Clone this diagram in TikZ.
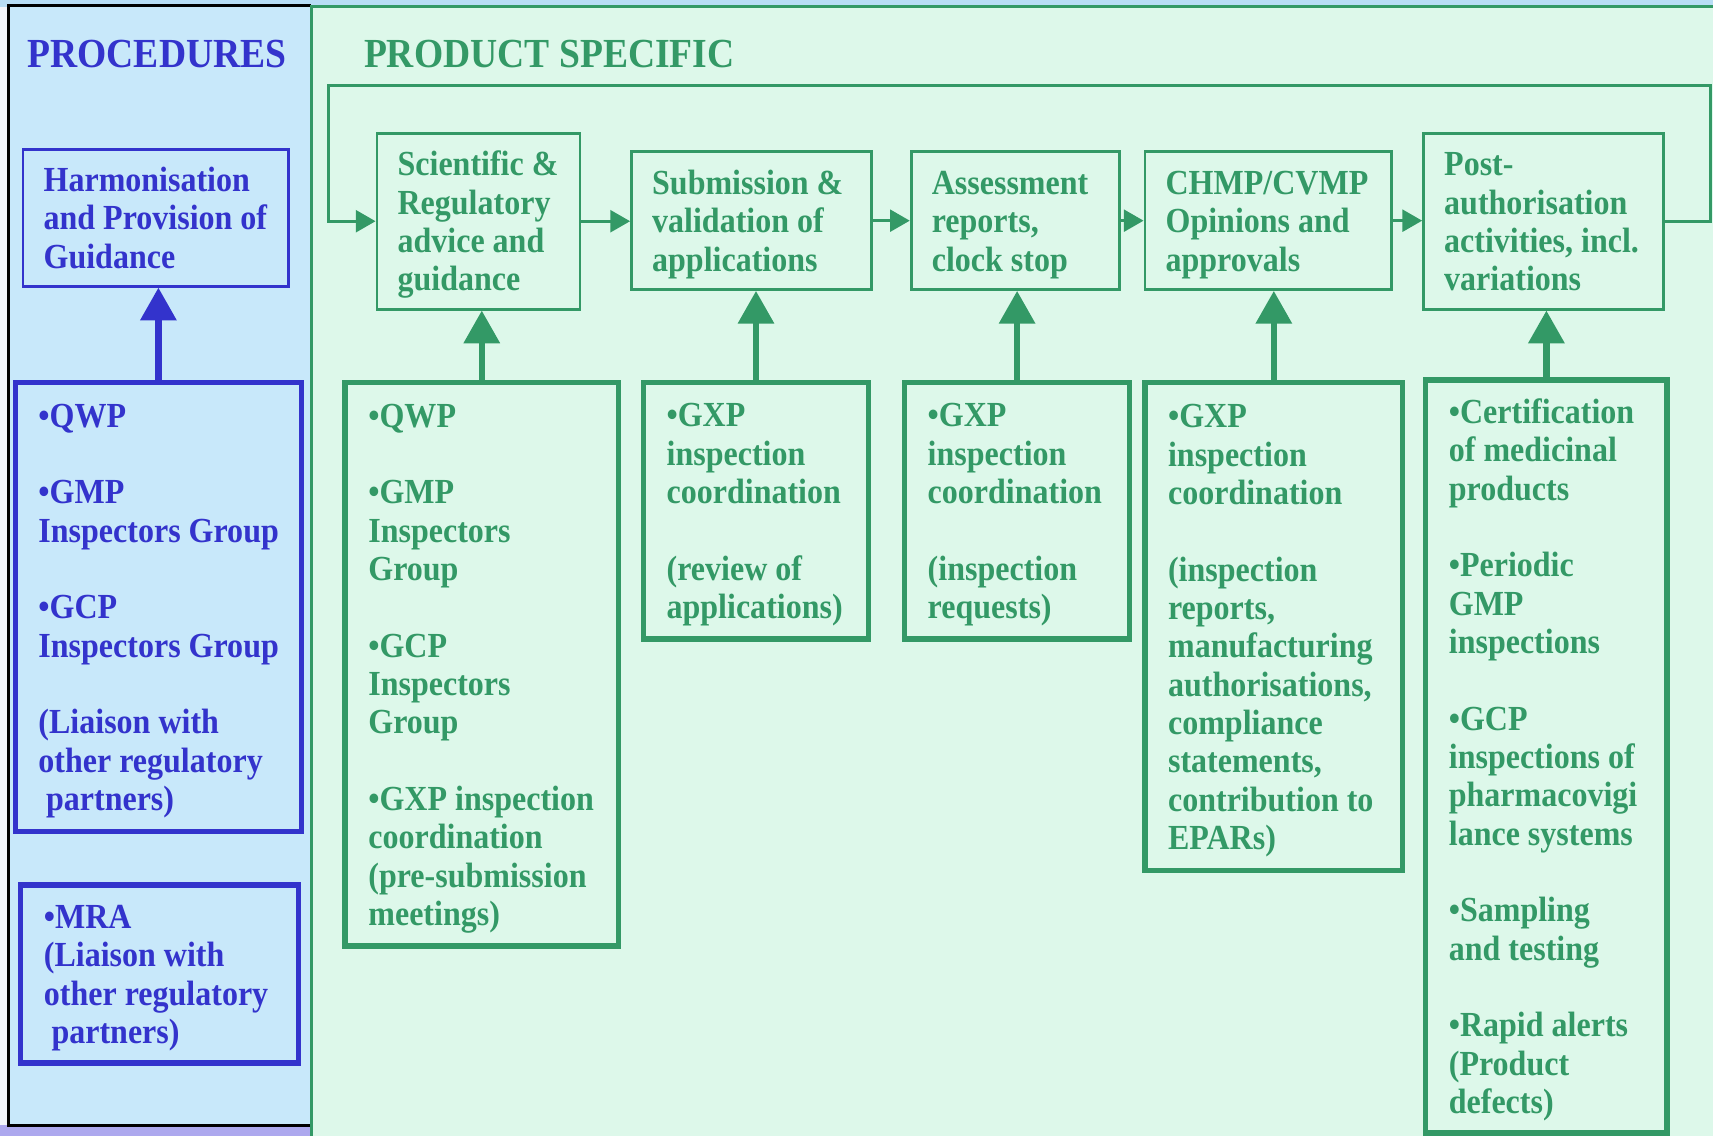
\documentclass[tikz,border=0pt]{standalone}
\usepackage{fontspec}
\usepackage{graphicx}
\setmainfont{Liberation Serif}
\usetikzlibrary{arrows.meta}
\definecolor{pblue}{HTML}{3333CC}
\definecolor{pgreen}{HTML}{339966}
\definecolor{lbluefill}{HTML}{C8E8FA}
\definecolor{lgreenfill}{HTML}{DDF8EA}
\definecolor{topstrip}{HTML}{B8DDF5}
\definecolor{lavender}{HTML}{ADA8EE}
\definecolor{pagebg}{HTML}{F2F5FB}
\newcommand\tlines[1]{\scalebox{1}[1.1]{\fontsize{29.3}{31.9}\selectfont\bfseries\begin{tabular}{@{}l@{}}#1\end{tabular}}}
\newcommand\ttitle[1]{\scalebox{1}[1.1]{\fontsize{34.4}{40}\selectfont\bfseries #1}}
\begin{document}
\begin{tikzpicture}[x=1pt,y=-1pt,
  txt/.style={inner sep=0pt, anchor=west},
  gtxt/.style={txt, text=pgreen},
  btxt/.style={txt, text=pblue},
  gthin/.style={draw=pgreen, line width=2.5pt, inner sep=0pt},
  gthick/.style={draw=pgreen, line width=5pt, inner sep=0pt},
  bthin/.style={draw=pblue, line width=2.5pt, inner sep=0pt},
  bthick/.style={draw=pblue, line width=5pt, inner sep=0pt},
  flow/.style={draw=pgreen, line width=2.5pt, -{Triangle[length=18pt,width=20pt]}},
  uparrow/.style={line width=6pt, -{Triangle[length=30pt,width=32pt]}}
]
\useasboundingbox (0,0) rectangle (1568,1040);
% backgrounds
\fill[pagebg] (0,0) rectangle (1568,1040);
\fill[topstrip] (0,0) rectangle (1568,6);
\fill[lavender] (0,1030) rectangle (285,1040);
\fill[lbluefill] (8,5) rectangle (285,1030);
\draw[black, line width=3pt] (285,5) -- (8,5) -- (8,1030) -- (285,1030);
\fill[lgreenfill] (285,6) rectangle (1568,1040);
\draw[pgreen, line width=2.5pt] (285,1040) -- (285,6) -- (1568,6);

% titles
\node[anchor=base west, inner sep=0pt, text=pblue] (proc) at (25,62) {\ttitle{PROCEDURES}};
\node[anchor=base west, inner sep=0pt, text=pgreen] (prod) at (333,62) {\ttitle{PRODUCT SPECIFIC}};

% top row boxes
\node[gthin, minimum width=186pt, minimum height=161pt] (sci) at (438,202.5) {};
\node[gthin, minimum width=220pt, minimum height=126pt] (sub) at (688,202) {};
\node[gthin, minimum width=191pt, minimum height=126pt] (ass) at (929.5,202) {};
\node[gthin, minimum width=226pt, minimum height=126pt] (chmp) at (1161,202) {};
\node[gthin, minimum width=220pt, minimum height=161pt] (post) at (1413,202.5) {};

\node[gtxt] (sci-t) at ([xshift=20pt,yshift=-4pt]sci.west) {\tlines{Scientific \&\\Regulatory\\advice and\\guidance}};
\node[gtxt] (sub-t) at ([xshift=20pt,yshift=-4pt]sub.west) {\tlines{Submission \&\\validation of\\applications}};
\node[gtxt] (ass-t) at ([xshift=20pt,yshift=-4pt]ass.west) {\tlines{Assessment\\reports,\\clock stop}};
\node[gtxt] (chmp-t) at ([xshift=20pt,yshift=-4pt]chmp.west) {\tlines{CHMP/CVMP\\Opinions and\\approvals}};
\node[gtxt] (post-t) at ([xshift=20pt,yshift=-4pt]post.west) {\tlines{Post-\\authorisation\\activities, incl.\\variations}};

% bottom row boxes
\node[gthick, minimum width=250pt, minimum height=516pt] (ga) at (441,608) {};
\node[gthick, minimum width=206pt, minimum height=235pt] (gb) at (692,467.5) {};
\node[gthick, minimum width=206pt, minimum height=235pt] (gc) at (931,467.5) {};
\node[gthick, minimum width=236pt, minimum height=447pt] (gd) at (1166,573.5) {};
\node[gthick, minimum width=221pt, minimum height=689pt] (ge) at (1415.5,692.5) {};

\node[gtxt] (ga-t) at ([xshift=23.5pt,yshift=-4pt]ga.west) {\tlines{•QWP\\[31.9pt]•GMP\\Inspectors\\Group\\[31.9pt]•GCP\\Inspectors\\Group\\[31.9pt]•GXP inspection\\coordination\\(pre-submission\\meetings)}};
\node[gtxt] (gb-t) at ([xshift=23.5pt,yshift=-4pt]gb.west) {\tlines{•GXP\\inspection\\coordination\\[31.9pt](review of\\applications)}};
\node[gtxt] (gc-t) at ([xshift=23.5pt,yshift=-4pt]gc.west) {\tlines{•GXP\\inspection\\coordination\\[31.9pt](inspection\\requests)}};
\node[gtxt] (gd-t) at ([xshift=23.5pt,yshift=-4pt]gd.west) {\tlines{•GXP\\inspection\\coordination\\[31.9pt](inspection\\reports,\\manufacturing\\authorisations,\\compliance\\statements,\\contribution to\\EPARs)}};
\node[gtxt] (ge-t) at ([xshift=23.5pt,yshift=-4pt]ge.west) {\tlines{•Certification\\of medicinal\\products\\[31.9pt]•Periodic\\GMP\\inspections\\[31.9pt]•GCP\\inspections of\\pharmacovigi\\lance systems\\[31.9pt]•Sampling\\and testing\\[31.9pt]•Rapid alerts\\(Product\\defects)}};

% left panel boxes
\node[bthin, minimum width=243pt, minimum height=125pt] (harm) at (142.5,199.5) {};
\node[bthick, minimum width=262pt, minimum height=411pt] (qwp) at (145,555.5) {};
\node[bthick, minimum width=254pt, minimum height=163pt] (mra) at (146,891.5) {};

\node[btxt] (harm-t) at ([xshift=20pt,yshift=-4pt]harm.west) {\tlines{Harmonisation\\and Provision of\\Guidance}};
\node[btxt] (qwp-t) at ([xshift=23.5pt,yshift=-4pt]qwp.west) {\tlines{•QWP\\[31.9pt]•GMP\\Inspectors Group\\[31.9pt]•GCP\\Inspectors Group\\[31.9pt](Liaison with\\other regulatory\\\hspace*{7pt}partners)}};
\node[btxt] (mra-t) at ([xshift=23.5pt,yshift=-4pt]mra.west) {\tlines{•MRA\\(Liaison with\\other regulatory\\\hspace*{7pt}partners)}};

% flow arrows
\draw[flow] (sci.east) -- (sci.east -| sub.west);
\draw[flow] (sub.east) -- (ass.west);
\draw[flow] (ass.east) -- (chmp.west);
\draw[flow] (chmp.east) -- (chmp.east -| post.west);
\coordinate (loopR) at (1566,78);
\coordinate (loopL) at (301,78);
\draw[flow] (post.east) -| (loopR) -- (loopL) |- (sci.west);

% up arrows
\draw[uparrow, pgreen] (ga.north) -- (ga.north |- sci.south);
\draw[uparrow, pgreen] (gb.north) -- (gb.north |- sub.south);
\draw[uparrow, pgreen] (gc.north) -- (gc.north |- ass.south);
\draw[uparrow, pgreen] (gd.north) -- (gd.north |- chmp.south);
\draw[uparrow, pgreen] (ge.north) -- (ge.north |- post.south);
\draw[uparrow, pblue] (qwp.north) -- (qwp.north |- harm.south);
\end{tikzpicture}
\end{document}
